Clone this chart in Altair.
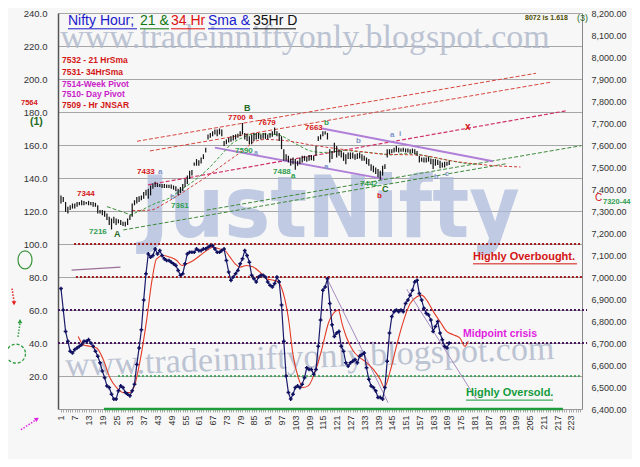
import altair as alt
import pandas as pd

FONT = "Liberation Sans, Arial, sans-serif"
SERIF = "Liberation Serif, Times New Roman, serif"

# ---------------- data ----------------
bar_i = list(range(1, 171))
bar_high = [7371, 7364, 7341, 7319, 7326, 7334, 7334, 7341, 7341, 7349,
            7346, 7341, 7346, 7341, 7341, 7337, 7326, 7304, 7304, 7301,
            7289, 7274, 7266, 7274, 7266, 7262, 7259, 7251, 7251, 7266,
            7281, 7334, 7349, 7364, 7367, 7371, 7386, 7397, 7401, 7416,
            7426, 7433, 7426, 7423, 7423, 7423, 7420, 7419, 7420, 7416,
            7412, 7401, 7409, 7423, 7446, 7461, 7483, 7486, 7521, 7536,
            7531, 7543, 7558, 7588, 7648, 7655, 7663, 7670, 7670, 7675,
            7670, 7618, 7625, 7633, 7640, 7645, 7648, 7651, 7663, 7700,
            7655, 7651, 7640, 7648, 7655, 7655, 7655, 7648, 7655, 7655,
            7648, 7655, 7663, 7679, 7663, 7655, 7640, 7581, 7558, 7551,
            7539, 7543, 7536, 7528, 7543, 7551, 7551, 7548, 7554, 7554,
            7551, 7596, 7640, 7648, 7663, 7663, 7655, 7581, 7573, 7610,
            7596, 7581, 7573, 7566, 7558, 7566, 7566, 7566, 7558, 7563,
            7566, 7558, 7551, 7543, 7536, 7513, 7506, 7498, 7491, 7483,
            7506, 7513, 7581, 7581, 7581, 7588, 7596, 7588, 7584, 7588,
            7584, 7584, 7581, 7584, 7581, 7573, 7551, 7543, 7543, 7543,
            7548, 7539, 7536, 7536, 7533, 7528, 7521, 7524, 7524, 7528]
bar_low = [7334, 7341, 7296, 7289, 7304, 7311, 7311, 7319, 7326, 7326,
           7326, 7331, 7326, 7326, 7319, 7319, 7289, 7289, 7281, 7274,
           7259, 7236, 7216, 7244, 7236, 7244, 7236, 7232, 7229, 7236,
           7259, 7274, 7326, 7334, 7341, 7349, 7356, 7371, 7356, 7371,
           7401, 7409, 7409, 7409, 7405, 7405, 7405, 7405, 7401, 7397,
           7391, 7371, 7382, 7391, 7409, 7423, 7446, 7461, 7506, 7506,
           7506, 7516, 7536, 7566, 7625, 7633, 7640, 7648, 7640, 7648,
           7640, 7596, 7603, 7611, 7615, 7621, 7625, 7633, 7640, 7648,
           7625, 7618, 7603, 7603, 7618, 7625, 7628, 7625, 7628, 7628,
           7625, 7633, 7637, 7648, 7640, 7618, 7581, 7528, 7528, 7521,
           7506, 7513, 7488, 7506, 7513, 7521, 7528, 7524, 7528, 7531,
           7528, 7551, 7618, 7625, 7640, 7648, 7625, 7521, 7536, 7566,
           7543, 7551, 7543, 7528, 7513, 7536, 7536, 7539, 7533, 7536,
           7539, 7528, 7528, 7513, 7506, 7483, 7476, 7468, 7453, 7442,
           7461, 7491, 7543, 7558, 7563, 7566, 7569, 7566, 7569, 7569,
           7566, 7566, 7563, 7563, 7558, 7551, 7521, 7524, 7521, 7521,
           7524, 7513, 7491, 7506, 7509, 7494, 7498, 7498, 7506, 7509]
osc_val = [73, 60, 47, 41, 35, 34, 36, 37, 38, 39,
           41, 41, 42, 40, 38, 35, 32, 28, 23, 19,
           14, 13, 9, 6, 6, 11, 14, 13, 10, 9,
           8, 11, 15, 27, 37, 48, 66, 82, 94, 92,
           93, 97, 94, 96, 93, 91, 90, 90, 89, 88,
           87, 84, 81, 82, 88, 94, 95, 95, 95, 97,
           96, 96, 97, 97, 98, 99, 99, 97, 95, 95,
           96, 97, 90, 83, 78, 80, 82, 84, 88, 91,
           96, 93, 89, 81, 79, 77, 80, 81, 81, 80,
           77, 75, 74, 76, 80, 77, 63, 41, 20, 10,
           6, 9, 13, 14, 13, 15, 19, 25, 24, 24,
           21, 24, 38, 54, 72, 74, 79, 64, 51, 44,
           46, 47, 38, 35, 28, 26, 28, 29, 30, 28,
           32, 33, 34, 25, 18, 14, 13, 11, 7, 7,
           6, 13, 29, 46, 56, 59, 60, 59, 60, 59,
           64, 66, 69, 72, 77, 78, 70, 66, 61, 58,
           57, 54, 47, 50, 53, 46, 42, 38, 37, 40]
sig_i = [8.5, 10.7, 13.6, 16.5, 19.4, 22.3, 25.2, 28.1, 31, 33.2, 35.4, 38.3, 40.5,
         42.6, 45.6, 48.5, 51.4, 53.6, 55.8, 58.6, 61.5, 64.4, 67.3, 70.2, 72.4,
         74.6, 76.8, 78.9, 81.8, 84.7, 87.6, 90.5, 93.5, 95.6, 97.8, 100, 102,
         104.3, 106.4, 108.6, 112, 114.5, 117.4, 120.3, 121.7, 123.5, 125.4, 128.3,
         131.2, 134.1, 137, 139.9, 141.8, 144.3, 147.2, 150, 153, 155.9, 158, 160.2,
         163.1, 166, 168.9, 171.8, 174.7, 176.8, 178.3]
sig_v = [44, 39, 38, 37, 30, 19, 13, 10, 10, 15, 29, 54, 77,
         91, 93, 92, 90, 87, 88, 90, 93, 96, 98, 97, 96,
         92, 88, 86, 87, 86, 83, 79, 78, 77, 70, 55, 33,
         19, 13, 14, 24, 36, 52, 59, 60, 51, 43, 35,
         31, 28, 24, 18, 13, 23, 39, 53, 64, 68, 69, 66,
         59, 53, 47, 45, 43, 38, 41]
sma21_i = [31, 36, 42, 48, 54, 59, 65, 71, 75, 80, 84, 90, 96, 100, 105, 110, 115,
           120, 125, 130, 135, 140, 145, 150, 155, 160, 165, 170, 176, 183]
sma21_p = [7281, 7304, 7334, 7358, 7402, 7438, 7491, 7558, 7603, 7633, 7648, 7650,
           7645, 7625, 7595, 7572, 7566, 7570, 7575, 7570, 7566, 7560, 7555, 7560,
           7560, 7550, 7540, 7530, 7518, 7513]
sma34_i = [32, 40, 46, 52, 58, 64, 69, 75, 81, 85, 90, 100, 110, 120, 130, 142,
           157, 171, 185, 201]
sma34_p = [7302, 7304, 7334, 7371, 7412, 7453, 7491, 7536, 7581, 7615, 7625, 7618,
           7600, 7585, 7572, 7558, 7554, 7528, 7510, 7500]

# trend lines: [start index, start price, end index, end price]
chan_up = [34.1, 7617, 207.8, 7926]
chan_lo = [39.7, 7573, 213.9, 7885]
x_line = [38.9, 7419, 221.3, 7756]
grn_lo = [28.1, 7214, 194.9, 7515]
grn_hi = [64.4, 7304, 227.5, 7597]
grn_short = [21, 7320, 31.8, 7281]
wedge_top = [114.7, 7675, 189, 7526]
wedge_bot = [68, 7588, 141.3, 7446]
# oscillator trend lines: [start index, value, end index, value]
osc_tl1 = [116.5, 80, 143.4, 3.8]
osc_tl2 = [151.5, 72.6, 181.9, 5.8]
osc_short = [5.6, 84.2, 26.9, 86.0]
# oscillator reference levels: [level, start index, end index]
lvl_100 = [100, 6.7, 227.8]
lvl_80 = [80, 7.5, 227.8]
lvl_60 = [60, -0.3, 230]
lvl_40 = [40, -0.3, 230]
lvl_20 = [20, 25.8, 227.8]
lvl_0 = [0, 19.7, 219.5]

# ---------------- layout ----------------
W, H, PT = 524, 396, 5
ONE = alt.Data(values=[{"k": 1}])


def lx(X):
    return X - 58


def ly(Y):
    return (Y - 7) * H / 401.0


xs = alt.Scale(domain=[-0.3, 227.8], nice=False, zero=False)
xax = alt.Axis(values=list(range(1, 229)), format="d",
               labelExpr="(datum.value - 1) % 6 == 0 ? datum.label : ''",
               labelAngle=270, labelAlign="right", labelBaseline="middle",
               labelOverlap=False, labelFontSize=9, labelColor="#333",
               labelPadding=3, tickSize=3, tickColor="#aaa", domainColor="#999",
               grid=False, title=None)
ysL = alt.Scale(domain=[0, 240], nice=False, zero=False)
yaxL = alt.Axis(values=list(range(20, 241, 20)), format=".1f", grid=True,
                gridColor="#a6a6a6", ticks=False, labelPadding=11, domainColor="#555",
                domainWidth=1.5, labelFontSize=9.5, labelColor="#333", title=None)
ysR = alt.Scale(domain=[6400, 8200], nice=False, zero=False)
yaxR = alt.Axis(orient="right", values=list(range(6400, 8201, 100)), format=",.2f",
                grid=False, ticks=False, labelPadding=9, domainColor="#888",
                labelFontSize=9, labelColor="#333", title=None)


def XQ(f):
    return alt.X(f + ":Q", scale=xs, axis=xax)


def YL(f):
    return alt.Y(f + ":Q", scale=ysL, axis=yaxL)


def YR(f):
    return alt.Y(f + ":Q", scale=ysR, axis=yaxR)


def T(s, X, Y, color, size=8, weight="bold", align="left", font=FONT,
      opacity=None, baseline="middle", angle=None):
    kw = dict(text=s, color=color, fontSize=size, fontWeight=weight, align=align,
              baseline=baseline, font=font)
    if opacity is not None:
        kw["opacity"] = opacity
    if angle is not None:
        kw["angle"] = angle
    return alt.Chart(ONE).mark_text(**kw).encode(x=alt.value(lx(X)), y=alt.value(ly(Y)))


def R(X1, Y1, X2, Y2, color, width=1.0, dash=None):
    kw = dict(color=color, strokeWidth=width)
    if dash:
        kw["strokeDash"] = dash
    return alt.Chart(ONE).mark_rule(**kw).encode(
        x=alt.value(lx(X1)), y=alt.value(ly(Y1)), x2=alt.value(lx(X2)), y2=alt.value(ly(Y2)))


def P(X, Y, shape, size, color, filled=True, angle=None, dash=None, sw=1.2):
    kw = dict(shape=shape, size=size, filled=filled, color=color, strokeWidth=sw, opacity=1)
    if angle is not None:
        kw["angle"] = angle
    if dash:
        kw["strokeDash"] = dash
    return alt.Chart(ONE).mark_point(**kw).encode(x=alt.value(lx(X)), y=alt.value(ly(Y)))


def seg(vals, yfun, color, width=1.0, dash=None):
    df = pd.DataFrame({"i": [vals[0], vals[2]], "v": [vals[1], vals[3]]})
    kw = dict(color=color, strokeWidth=width)
    if dash:
        kw["strokeDash"] = dash
    return alt.Chart(df).mark_line(**kw).encode(x=XQ("i"), y=yfun("v"))


def level(vals, color, width, dash=None):
    df = pd.DataFrame({"i": [vals[1], vals[2]], "v": [vals[0], vals[0]]})
    kw = dict(color=color, strokeWidth=width, strokeCap="butt")
    if dash:
        kw["strokeDash"] = dash
    return alt.Chart(df).mark_line(**kw).encode(x=XQ("i"), y=YL("v"))


# ---------------- left (oscillator) group ----------------
wm = [
    T("www.tradeinniftyonly.blogspot.com", 305, 42, "#b2bbcd", size=34, weight="normal",
      align="center", font=SERIF, baseline="alphabetic", opacity=0.85),
    T("www.tradeinniftyonly.blogspot.com", 310, 366, "#b2bbcd", size=34, weight="normal",
      align="center", font=SERIF, baseline="alphabetic", opacity=0.85, angle=358),
    T("JustNifty", 330, 234, "#a9b8da", size=86, weight="bold", align="center",
      font="DejaVu Sans Condensed, Liberation Sans Narrow, Liberation Sans, sans-serif",
      baseline="alphabetic", opacity=0.7),
]
levels = [
    level(lvl_100, "#a51a1a", 2, [2, 2]),
    level(lvl_80, "#a51a1a", 2, [2, 2]),
    level(lvl_60, "#4b1860", 2, [2, 2]),
    level(lvl_40, "#4b1860", 2, [2, 2]),
    level(lvl_20, "#1f9a3c", 1.5, [2, 2]),
    level(lvl_0, "#1f9a3c", 2.5),
]
osc_df = pd.DataFrame({"i": bar_i, "v": osc_val})
sig_df = pd.DataFrame({"i": sig_i, "v": sig_v})
left = alt.layer(
    *wm, *levels,
    seg(osc_tl1, YL, "#a58bc0", 1),
    seg(osc_tl2, YL, "#a58bc0", 1),
    seg(osc_short, YL, "#9a6f9a", 1.2),
    alt.Chart(sig_df).mark_line(color="#e33b25", strokeWidth=1.1, interpolate="monotone")
    .encode(x=XQ("i"), y=YL("v")),
    alt.Chart(osc_df).mark_line(color="#1b1b6b", strokeWidth=1.2,
                                point=alt.OverlayMarkDef(shape="cross", size=14,
                                                         color="#101060", filled=True))
    .encode(x=XQ("i"), y=YL("v")),
)

# ---------------- right (price) group ----------------
bars_df = pd.DataFrame({"i": bar_i, "low": bar_low, "high": bar_high})
s21 = pd.DataFrame({"i": sma21_i, "v": sma21_p})
s34 = pd.DataFrame({"i": sma34_i, "v": sma34_p})
right = alt.layer(
    seg(chan_up, YR, "#d9463e", 1, [4, 2]),
    seg(chan_lo, YR, "#d9463e", 1, [4, 2]),
    seg(x_line, YR, "#d0306a", 1.2, [4, 2]),
    seg(grn_lo, YR, "#3f8a3a", 1, [4, 2]),
    seg(grn_hi, YR, "#3f8a3a", 1, [4, 2]),
    seg(grn_short, YR, "#3f8a3a", 1, [4, 2]),
    seg(wedge_top, YR, "#b07fd8", 2),
    seg(wedge_bot, YR, "#b07fd8", 2),
    alt.Chart(s21).mark_line(color="#3a9a3a", strokeWidth=1, strokeDash=[3, 2],
                             interpolate="monotone").encode(x=XQ("i"), y=YR("v")),
    alt.Chart(s34).mark_line(color="#d23c3c", strokeWidth=1, strokeDash=[3, 2],
                             interpolate="monotone").encode(x=XQ("i"), y=YR("v")),
    alt.Chart(bars_df).mark_rule(color="#111111", strokeWidth=1.2)
    .encode(x=XQ("i"), y=YR("low"), y2=alt.Y2("high:Q")),
)

# ---------------- annotations ----------------
RED = "#d41515"
MAG = "#c922c9"
GRN = "#2f9e50"
GDK = "#1f6b1f"
BLG = "#7d93c9"
ann = [
    T("Nifty Hour;", 68, 15, "#1a1acc", 14, "normal"),
    T("21 &", 140, 15, "#117711", 14, "normal"),
    T("34 Hr", 171, 15, "#dd1111", 14, "normal"),
    T("Sma &", 208, 15, "#1a1acc", 14, "normal"),
    T("35Hr D", 253, 15, "#111111", 14, "normal"),
    R(68, 23, 137, 23, "#1a1acc", 1), R(140, 23, 169, 23, "#117711", 1),
    R(171, 23, 205, 23, "#dd1111", 1), R(208, 23, 250, 23, "#1a1acc", 1),
    R(253, 23, 296, 23, "#111111", 1),
    T("7532 - 21 HrSma", 62, 55, RED, 8.5), T("7531- 34HrSma", 62, 67, RED, 8.5),
    T("7514-Week Pivot", 62, 79, MAG, 8.5), T("7510- Day Pivot", 62, 89, MAG, 8.5),
    T("7509 - Hr JNSAR", 62, 100, RED, 8.5),
    T("7564", 21, 98, RED, 7.5), T("(1)", 30, 117, GDK, 10.5),
    T("8072 is 1.618", 525, 12, "#4d4d00", 7), T("(3)", 577, 12, GDK, 9, "normal"),
    T("C", 595, 194, RED, 10, "normal"), T("7320-44", 603, 198, GRN, 7.5),
    T("7344", 77, 190, RED), T("7216", 89, 229, GRN), T("A", 114, 231, GDK, 9),
    T("7433", 137, 168, RED), T("a", 158, 168, BLG), T("b", 170, 193, BLG),
    T("7361", 171, 202, GRN), T("B", 244, 103, GDK, 9), T("7700", 228, 113, RED),
    T("a", 249, 112, RED, 7), T("7679", 258, 118, RED), T("7590", 235, 147, GRN),
    T("a", 254, 149, BLG, 7), T("7488", 273, 168, GRN), T("a", 291, 172, GRN),
    T("7663", 305, 123, RED), T("b", 324, 118, GRN), T("b", 356, 137, BLG),
    T("a", 324, 163, BLG), T("a", 390, 131, BLG), T("i", 399, 130, BLG),
    T("7442", 360, 180, GRN), T("C", 382, 185, GDK, 9), T("b", 377, 192, RED),
    T("x", 465, 122, RED, 10), T("b", 434, 173, BLG, 7), T("c", 445, 170, BLG, 7),
    T("Highly Overbought.", 473, 254, RED, 11), R(473, 261, 577, 261, RED, 1),
    T("Midpoint crisis", 463, 332, "#e01ee0", 10.5),
    T("Highly Oversold.", 466, 392, "#139c3c", 11), R(466, 399, 553, 399, "#139c3c", 1),
    # left margin decorations
    P(25, 257, "M0,-1.29A1,1.29,0,1,1,0,1.29A1,1.29,0,1,1,0,-1.29Z", 196, "#3c963c",
      filled=False),
    R(12, 286, 14, 299, "#e02020", 1.5, [1.5, 1.5]),
    P(14, 301, "triangle-down", 22, "#e02020"),
    R(18, 335, 20, 321, "#2a9a3a", 1.5, [1.5, 1.5]),
    P(20, 319, "triangle-up", 22, "#2a9a3a"),
    P(16, 352, "circle", 361, "#2a9a3a", filled=False, dash=[3, 2], sw=1.3),
    R(21, 429, 36, 419, "#e020e0", 1.5, [1.5, 1.5]),
    P(37, 418, "triangle-up", 24, "#e020e0", angle=57),
]

chart = (
    alt.layer(left, right, alt.layer(*ann))
    .resolve_scale(y="independent")
    .properties(width=W, height=H, background="#f7f7f7",
                padding={"left": 50, "top": PT, "right": 50, "bottom": 451 - PT - H},
                autosize=alt.AutoSizeParams(type="none"))
    .configure_view(stroke=None)
    .configure_axis(labelFont=FONT)
)

chart.save("out.html", embed_options={"renderer": "svg", "actions": False})
